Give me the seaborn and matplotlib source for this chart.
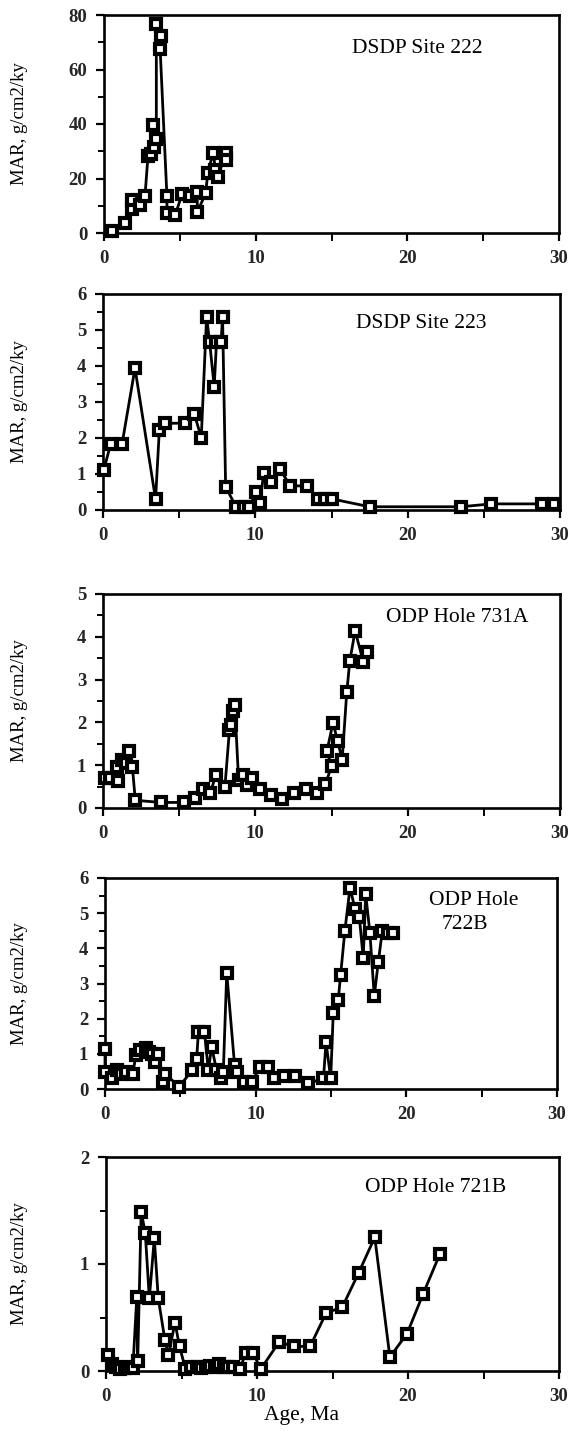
import matplotlib
matplotlib.use("Agg")
import matplotlib.pyplot as plt
from matplotlib.ticker import MultipleLocator
import seaborn as sns
import pandas as pd

# Mass accumulation rate records (age in Ma, MAR in g/cm2/ky), in sample order
site222_age = [0.55, 1.4, 1.85, 1.85, 2.35, 2.7, 2.9, 3.1, 3.25, 3.3, 3.45, 3.45, 3.75, 3.7,
               4.15, 4.15, 4.7, 5.15, 5.7, 6.15, 6.15, 6.7, 6.85, 7.2, 7.35, 7.5, 8.05, 8.05]
site222_mar = [0.6, 3.7, 8.8, 12.2, 10.4, 13.4, 28.3, 29.0, 39.6, 31.7, 34.4, 76.8, 72.2, 67.7,
               13.4, 7.3, 6.7, 14.3, 13.4, 15.2, 7.6, 14.6, 22.2, 29.5, 23.2, 20.7, 29.5, 26.8]

site223_age = [0.05, 0.5, 1.25, 2.1, 3.45, 3.7, 4.1, 5.4, 6.0, 6.45, 6.8, 7.0, 7.3, 7.45,
               7.75, 7.85, 8.05, 8.75, 9.25, 9.6, 10.05, 10.3, 10.55, 11.05, 11.6, 12.3,
               13.4, 14.1, 14.55, 15.0, 17.5, 23.5, 25.5, 28.8, 29.6]
site223_mar = [1.11, 1.83, 1.83, 3.94, 0.30, 2.23, 2.41, 2.41, 2.66, 2.01, 5.36, 4.66, 3.43, 4.66,
               4.66, 5.36, 0.65, 0.07, 0.07, 0.07, 0.51, 0.19, 1.02, 0.79, 1.14, 0.67,
               0.67, 0.31, 0.31, 0.31, 0.09, 0.09, 0.17, 0.17, 0.17]

hole731a_age = [0.1, 0.48, 1.0, 0.9, 1.27, 1.53, 1.7, 1.93, 2.12, 3.8, 5.3, 6.05, 6.55, 7.05,
                7.4, 8.0, 8.3, 8.4, 8.55, 8.65, 8.9, 9.2, 9.45, 9.8, 10.3, 11.05, 11.75,
                12.55, 13.3, 14.05, 14.6, 15.0, 14.7, 15.1, 15.4, 15.7, 16.0, 16.2, 16.55,
                17.1, 17.35]
hole731a_mar = [0.71, 0.69, 0.63, 0.96, 1.12, 1.04, 1.33, 0.96, 0.18, 0.13, 0.13, 0.24, 0.45, 0.34,
                0.78, 0.48, 1.82, 1.94, 2.27, 2.41, 0.66, 0.78, 0.53, 0.69, 0.44, 0.30, 0.20,
                0.34, 0.45, 0.34, 0.55, 0.98, 1.33, 1.99, 1.57, 1.13, 2.70, 3.43, 4.14,
                3.40, 3.64]

hole722b_age = [0.0, 0.0, 0.45, 0.77, 1.06, 1.4, 1.85, 2.05, 2.3, 2.7, 2.95, 3.1, 3.35, 3.55,
                3.87, 4.0, 4.93, 5.8, 6.08, 6.2, 6.6, 6.86, 7.08, 7.4, 7.7, 7.85, 8.08,
                8.6, 8.73, 9.2, 9.73, 10.3, 10.85, 11.2, 11.9, 12.6, 13.5, 14.5, 14.67,
                14.98, 15.15, 15.48, 15.64, 15.92, 16.26, 16.59, 16.88, 17.14, 17.3, 17.58,
                17.87, 18.14, 18.4, 18.8, 19.1]
hole722b_mar = [1.14, 0.47, 0.30, 0.54, 0.42, 0.49, 0.43, 0.97, 1.11, 1.16, 1.05, 1.00, 0.78, 1.00,
                0.21, 0.42, 0.07, 0.54, 0.85, 1.61, 1.61, 0.54, 1.20, 0.54, 0.30, 0.47, 3.30,
                0.68, 0.47, 0.19, 0.19, 0.62, 0.62, 0.30, 0.38, 0.38, 0.16, 0.30, 1.33,
                0.30, 2.16, 2.54, 3.25, 4.50, 5.72, 5.13, 4.89, 3.72, 5.55, 4.45,
                2.65, 3.61, 4.48, 4.45, 4.45]

hole721b_age = [0.15, 0.37, 0.65, 0.96, 1.24, 1.52, 1.78, 2.04, 2.1, 2.33, 2.6, 2.87, 3.2, 3.46,
                3.9, 4.13, 4.57, 4.87, 5.26, 5.6, 6.0, 6.3, 6.6, 6.9, 7.2, 7.5, 7.8, 8.1,
                8.4, 8.85, 9.28, 9.72, 10.26, 11.46, 12.48, 13.52, 14.57, 15.66, 16.74,
                17.8, 18.8, 19.94, 21.0, 22.1]
hole721b_mar = [0.15, 0.07, 0.04, 0.02, 0.03, 0.04, 0.03, 0.69, 0.09, 1.49, 1.29, 0.68, 1.24, 0.68,
                0.29, 0.15, 0.45, 0.23, 0.02, 0.04, 0.04, 0.03, 0.04, 0.05, 0.04, 0.07, 0.04, 0.04,
                0.04, 0.02, 0.17, 0.17, 0.02, 0.27, 0.23, 0.23, 0.54, 0.60, 0.92,
                1.25, 0.13, 0.35, 0.72, 1.09]

# panel labels, one list of lines per panel
site_names = [["DSDP Site 222"], ["DSDP Site 223"], ["ODP Hole 731A"],
              ["ODP Hole", "722B"], ["ODP Hole 721B"]]
y_max = [80, 6, 5, 6, 2]
y_major = [20, 1, 1, 1, 1]
y_minor = [10, 0.5, 0.5, 0.5, 0.5]

records = [
    (site222_age, site222_mar),
    (site223_age, site223_mar),
    (hole731a_age, hole731a_mar),
    (hole722b_age, hole722b_mar),
    (hole721b_age, hole721b_mar),
]

sns.set_theme(style="ticks")
plt.rcParams["font.family"] = ["Liberation Serif", "DejaVu Serif"]

W, H = 573, 1434
fig = plt.figure(figsize=(W / 100, H / 100), dpi=100)
fig.patch.set_facecolor("white")

# panel boxes in pixels: left, top, right, bottom
boxes = [
    (104, 15, 559, 233),
    (103, 294, 560, 510),
    (103, 594, 560, 808),
    (105, 878, 557, 1089),
    (106, 1157, 559, 1371),
]
# label line anchors (left x, baseline y) in pixels
title_pos = [[(352, 53)], [(356, 328)], [(386, 622)],
             [(429, 905), (442, 929)], [(365, 1192)]]

for i, ((age, mar), box) in enumerate(zip(records, boxes)):
    l, t, r, b = box
    ax = fig.add_axes([l / W, 1 - b / H, (r - l) / W, (b - t) / H])
    df = pd.DataFrame({"age": age, "mar": mar})
    sns.lineplot(data=df, x="age", y="mar", ax=ax, sort=False, estimator=None,
                 color="black", linewidth=2.0, marker="s", markersize=6.5,
                 markerfacecolor="white", markeredgecolor="black", markeredgewidth=3.0,
                 clip_on=False, zorder=3)
    ax.set_xlim(0, 30)
    ax.set_ylim(0, y_max[i])
    ax.xaxis.set_major_locator(MultipleLocator(10))
    ax.xaxis.set_minor_locator(MultipleLocator(5))
    ax.yaxis.set_major_locator(MultipleLocator(y_major[i]))
    ax.yaxis.set_minor_locator(MultipleLocator(y_minor[i]))
    ax.tick_params(axis="both", which="major", direction="out", length=6, width=1.6,
                   labelsize=13.5, pad=6, color="black")
    ax.tick_params(axis="both", which="minor", direction="out", length=4, width=1.4,
                   color="black")
    ax.tick_params(axis="x", which="minor", length=6)
    for lab in ax.get_xticklabels() + ax.get_yticklabels():
        lab.set_fontweight("bold")
    for sp in ax.spines.values():
        sp.set_visible(True)
        sp.set_linewidth(1.9)
        sp.set_color("black")
    ax.set_xlabel("")
    ax.set_ylabel("")
    ax.set_facecolor("white")
    for line, (tx, ty) in zip(site_names[i], title_pos[i]):
        fig.text(tx / W, 1 - ty / H, line, ha="left", va="baseline",
                 fontsize=15.5, color="black")
    fig.text(20 / W, 1 - ((t + b) / 2) / H, "MAR, g/cm2/ky", rotation=90,
             ha="center", va="center", fontsize=13.5, color="black")

fig.text(302 / W, 1 - 1420 / H, "Age, Ma", ha="center", va="baseline", fontsize=15.5,
         color="black")

fig.savefig("out.png", dpi=100, facecolor="white")
